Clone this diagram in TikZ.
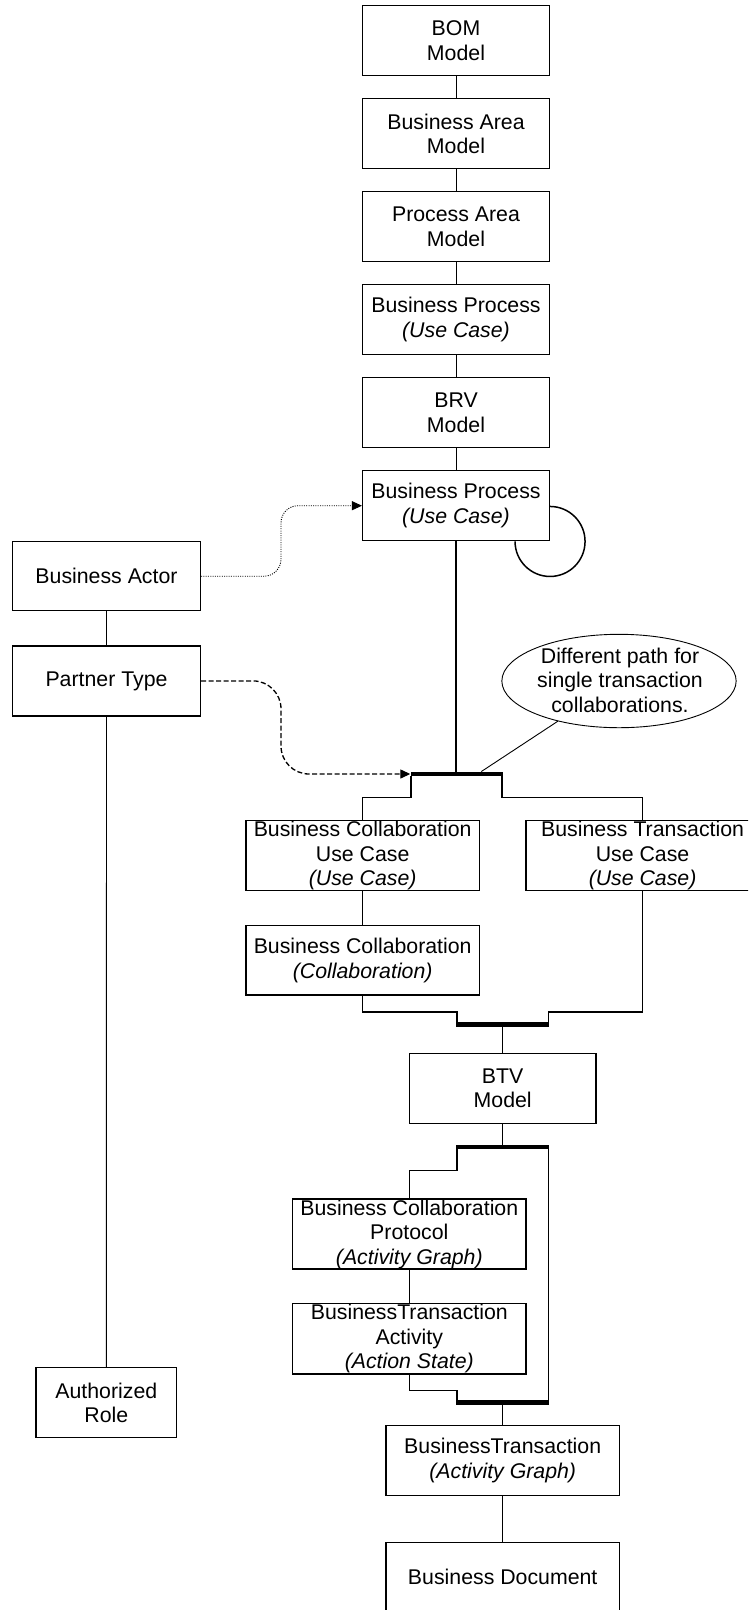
\documentclass[tikz,border=0pt]{standalone}
\usepackage{fontspec}
\setmainfont{Liberation Sans}
\usetikzlibrary{shapes.geometric,arrows.meta,calc}
\begin{document}
\begin{tikzpicture}[x=1pt,y=-1pt,
  box/.style={draw,line width=1.5pt,fill=white,inner sep=0pt,minimum height=70pt},
  lbl/.style={align=center,inner sep=0pt,font=\fontsize{21.3}{24.5}\selectfont},
  thinline/.style={line width=0.9pt},
  flow/.style={line width=1.5pt},
  bar/.style={fill=black,draw=none,inner sep=0pt,minimum height=4.5pt,minimum width=93pt},
  tip/.style={-{Triangle[length=10pt,width=9pt]}},
  dotline/.style={line width=0.9pt,dash pattern=on 1pt off 1.3pt},
  dashline/.style={line width=1.3pt,dash pattern=on 5pt off 2.5pt},
]
\clip (0,0) rectangle (748,1610);
\fill[white] (0,0) rectangle (748,1610);

% main model stack
\node[box,minimum width=186.6pt] (bom)   at (456,40.7)  {};
\node[box,minimum width=186.6pt] (barea) at (456,133.7) {};
\node[box,minimum width=186.6pt] (parea) at (456,226.7) {};
\node[box,minimum width=186.6pt] (bp1)   at (456,319.7) {};
\node[box,minimum width=186.6pt] (brv)   at (456,412.7) {};
\node[box,minimum width=186.6pt] (bp2)   at (456,505.7) {};

% roles on the left
\node[box,minimum width=187.6pt,minimum height=69pt] (actor) at (106.5,576.2) {};
\node[box,minimum width=187.6pt,minimum height=69.7pt] (ptype) at (106.5,680.9) {};
\node[box,minimum width=140.7pt] (arole) at (106.3,1402.7) {};

% note
\node[ellipse,draw,thinline,fill=white,inner sep=0pt,minimum width=234.3pt,minimum height=93.4pt] (note) at (619,681) {};

% fork / join bars
\node[bar,minimum width=92pt] (bar1) at (456.5,774) {};
\node[bar] (bar2) at (502.7,1024.7) {};
\node[bar] (bar3) at (502.7,1147) {};
\node[bar] (bar4) at (502.7,1402.7) {};

% collaboration / transaction boxes
\node[box,minimum width=233.3pt] (bcuc) at (362.7,855.7) {};
\node[box,minimum width=233.3pt] (btuc) at (642.6,855.7) {};
\node[box,minimum width=233.3pt,minimum height=69.3pt] (bc) at (362.7,960.3) {};
\node[box,minimum width=186.7pt] (btv) at (502.7,1088.3) {};
\node[box,minimum width=233.3pt] (bcp) at (409.3,1234) {};
\node[box,minimum width=233.3pt,minimum height=70.7pt] (bta) at (409.3,1338.7) {};
\node[box,minimum width=233.3pt] (bt) at (502.7,1460.7) {};
\node[box,minimum width=233.3pt] (bd) at (502.7,1577.3) {};

% texts
\node[lbl] (bom-t)   at (bom)   {BOM\\Model};
\node[lbl] (barea-t) at (barea) {Business Area\\Model};
\node[lbl] (parea-t) at (parea) {Process Area\\Model};
\node[lbl] (bp1-t)   at (bp1)   {Business Process\\\textit{(Use Case)}};
\node[lbl] (brv-t)   at (brv)   {BRV\\Model};
\node[lbl] (bp2-t)   at (bp2)   {Business Process\\\textit{(Use Case)}};
\node[lbl] (actor-t) at (actor) {Business Actor};
\node[lbl] (ptype-t) at (ptype) {Partner Type};
\node[lbl] (arole-t) at (arole) {Authorized\\Role};
\node[lbl] (note-t)  at (620,680) {Different path for\\single transaction\\collaborations.};
\node[lbl] (bcuc-t)  at (bcuc)  {Business Collaboration\\Use Case\\\textit{(Use Case)}};
\node[lbl] (btuc-t)  at (btuc)  {Business Transaction\\Use Case\\\textit{(Use Case)}};
\node[lbl] (bc-t)    at (bc)    {Business Collaboration\\\textit{(Collaboration)}};
\node[lbl] (btv-t)   at (btv)   {BTV\\Model};
\node[lbl] (bcp-t)   at (bcp)   {Business Collaboration\\Protocol\\\textit{(Activity Graph)}};
\node[lbl] (bta-t)   at (bta)   {BusinessTransaction\\Activity\\\textit{(Action State)}};
\node[lbl] (bt-t)    at (bt)    {BusinessTransaction\\\textit{(Activity Graph)}};
\node[lbl] (bd-t)    at (bd)    {Business Document};

% thin links
\draw[thinline] (bom) -- (barea);
\draw[thinline] (barea) -- (parea);
\draw[thinline] (parea) -- (bp1);
\draw[thinline] (bp1) -- (brv);
\draw[thinline] (brv) -- (bp2);
\draw[thinline] (actor) -- (ptype);
\draw[thinline] (ptype.south) -- (arole.north);
\draw[thinline] (bcuc) -- (bc);
\draw[thinline] (bcp) -- (bta);
\draw[thinline] (note) -- ([xshift=71pt]bar1.north west);

% self loop on the business process
\draw[flow] ([yshift=35pt]bp2.south east) arc[start angle=90,end angle=-180,radius=35pt];

% control flow
\draw[flow] (bp2.south) -- (bp2.south |- bar1.north);
\draw[flow] ([xshift=.75pt]bar1.south west) -- ++(0,21) -| (bcuc.north);
\draw[flow] ([xshift=-.75pt]bar1.south east) -- ++(0,21) -| (btuc.north);
\draw[flow] ([xshift=.75pt]bar2.north west) -- ++(0,-10.2) -| (bc.south);
\draw[flow] ([xshift=-.75pt]bar2.north east) -- ++(0,-10.2) -| (btuc.south);
\draw[flow] (bar2.south) -- (btv.north);
\draw[flow] (btv.south) -- (bar3.north);
\draw[flow] ([xshift=.75pt]bar3.south west) -- ++(0,20.8) -| (bcp.north);
\draw[flow] ([xshift=-.75pt]bar3.south east) -- ([xshift=-.75pt]bar4.north east);
\draw[flow] ([xshift=.75pt]bar4.north west) -- ++(0,-9.7) -| (bta.south);
\draw[flow] (bar4.south) -- (bt.north);
\draw[flow] (bt.south) -- (bd.north);

% dependencies from the roles
\coordinate (mid) at (281,600);
\draw[dotline,tip,rounded corners=17pt] (actor.east) -| (mid |- bp2.west) -- (bp2.west);
\draw[dashline,tip,rounded corners=28pt] (ptype.east) -| (mid |- bar1.west) -- (bar1.west);
\end{tikzpicture}
\end{document}
